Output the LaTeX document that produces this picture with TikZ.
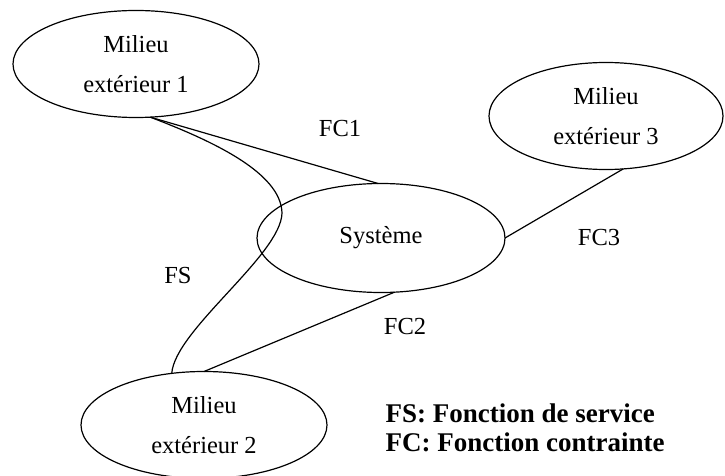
\documentclass[tikz,border=0pt]{standalone}
\usepackage{fontspec}
\setmainfont{Liberation Serif}
\usetikzlibrary{shapes.geometric}
\begin{document}
\begin{tikzpicture}[x=1pt,y=-1pt,
  milieu/.style={draw,ellipse,line width=1.2pt,minimum width=246pt,minimum height=107pt,inner sep=0pt,outer sep=0pt,align=center,font=\fontsize{24.5}{40}\selectfont},
  sysbox/.style={draw,ellipse,line width=1.2pt,minimum width=248pt,minimum height=109pt,inner sep=0pt,outer sep=0pt,font=\fontsize{24.5}{28}\selectfont},
  conn/.style={line width=1.2pt},
  lab/.style={font=\fontsize{24.5}{28}\selectfont},
  legend/.style={font=\fontsize{27}{29}\selectfont\bfseries,anchor=west}]
\useasboundingbox (0,0) rectangle (725,476);
\node[milieu] (m1) at (136,64) {Milieu\\extérieur 1};
\node[sysbox] (sys) at (381,238) {Système};
\node[milieu,minimum width=234pt] (m3) at (606,116) {Milieu\\extérieur 3};
\node[milieu] (m2) at (204,425) {Milieu\\extérieur 2};
\draw[conn] (m1.-75) -- (sys.93);
\draw[conn] (m1.-75) .. controls (210,140) and (281,172) .. (282,213)
  .. controls (281,255) and (175,330) .. (m2.122);
\draw[conn] (sys.-76) -- (m2.north);
\draw[conn] (sys.east) -- (m3.-72);
\node[lab] (fc1) at (340,129) {FC1};
\node[lab] (fs) at (178,276) {FS};
\node[lab] (fc3) at (599,238) {FC3};
\node[lab] (fc2) at (405,327) {FC2};
\node[legend] (l1) at (382,413) {FS: Fonction de service};
\node[legend] (l2) at (382,442) {FC: Fonction contrainte};
\end{tikzpicture}
\end{document}
